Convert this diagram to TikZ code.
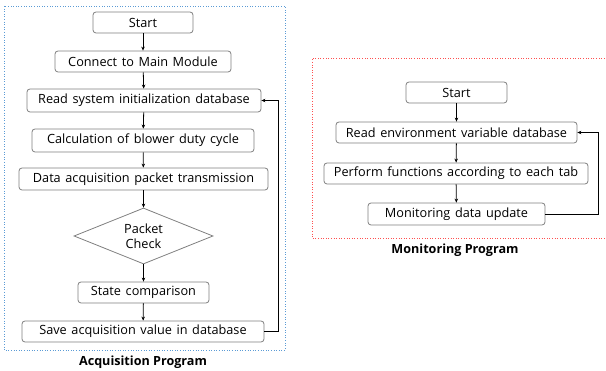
\documentclass[tikz,border=0pt]{standalone}
\usepackage{fontspec}
\setmainfont{Open Sans}[WordSpace={1.4}]
\newfontfamily\titlefont{Open Sans}
\usetikzlibrary{shapes.geometric,arrows.meta}
\definecolor{boxgray}{HTML}{7F7F7F}
\definecolor{acqblue}{HTML}{5B9BD5}
\definecolor{monred}{HTML}{FF5050}
\tikzset{
  proc/.style={draw=boxgray, line width=0.8pt, rounded corners=3pt, fill=white,
    inner sep=0pt, font=\fontsize{12.7}{14}\selectfont},
  dec/.style={draw=boxgray, line width=0.8pt, diamond, aspect=2.5, inner sep=0pt,
    minimum width=139pt, minimum height=56pt, align=center,
    font=\fontsize{12.7}{15}\selectfont},
  flow/.style={-{Stealth[length=4pt,width=3.5pt]}, line width=0.8pt, black},
  title/.style={font=\titlefont\fontsize{12.6}{14}\selectfont\bfseries},
}
\begin{document}
\begin{tikzpicture}[x=1pt,y=-1pt]
\useasboundingbox (0,0) rectangle (606,371);
% frames
\draw[acqblue, dotted, line width=0.6pt] (4,6) rectangle (285,350);
\draw[monred, dotted, line width=0.6pt] (607,58) -- (312,58) -- (312,238) -- (607,238);
% acquisition program
\node[proc, minimum width=100pt, minimum height=21pt] (a1) at (143,22.5) {Start};
\node[proc, minimum width=176pt, minimum height=21pt] (a2) at (143,61.5) {Connect to Main Module};
\node[proc, minimum width=234pt, minimum height=23pt] (a3) at (144,100.5) {Read system initialization database};
\node[proc, minimum width=222pt, minimum height=23pt] (a4) at (143,140.5) {Calculation of blower duty cycle};
\node[proc, minimum width=249pt, minimum height=22pt] (a5) at (143.5,179) {Data acquisition packet transmission};
\node[dec] (a6) at (143.5,236) {Packet\\Check};
\node[proc, minimum width=131pt, minimum height=21pt] (a7) at (143.5,292.5) {State comparison};
\node[proc, minimum width=242pt, minimum height=21pt] (a8) at (143,331.5) {Save acquisition value in database};
\draw[flow] (a1) -- (a2);
\draw[flow] (a2) -- (a3);
\draw[flow] (a3) -- (a4);
\draw[flow] (a4) -- (a5);
\draw[flow] (a5) -- (a6);
\draw[flow] (a6) -- (a7);
\draw[flow] (a7) -- (a8);
\draw[flow] (a8.east) -- (278,331.5) |- (a3.east);
\node[title] (at) at (143,362) {Acquisition Program};
% monitoring program
\node[proc, minimum width=101pt, minimum height=21pt] (m1) at (456.5,92.5) {Start};
\node[proc, minimum width=241pt, minimum height=21pt] (m2) at (456.5,132.5) {Read environment variable database};
\node[proc, minimum width=264pt, minimum height=21pt] (m3) at (456,173.5) {Perform functions according to each tab};
\node[proc, minimum width=177pt, minimum height=22pt] (m4) at (456.5,214) {Monitoring data update};
\draw[flow] (m1) -- (m2);
\draw[flow] (m2) -- (m3);
\draw[flow] (m3) -- (m4);
\draw[flow] (m4.east) -- (598,214) |- (m2.east);
\node[title] (mt) at (455,250) {Monitoring Program};
\end{tikzpicture}
\end{document}
